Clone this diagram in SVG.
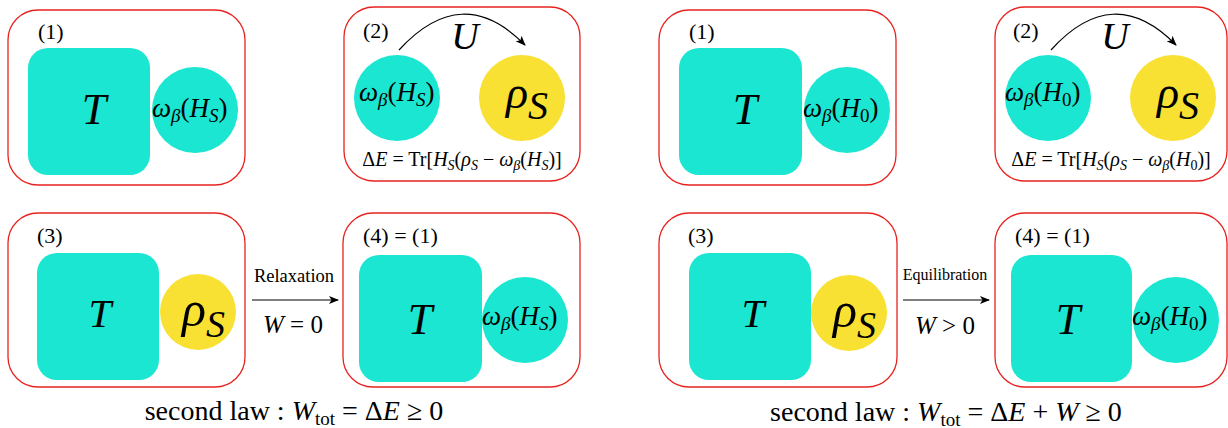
<svg xmlns="http://www.w3.org/2000/svg" width="1228" height="428" viewBox="0 0 1228 428">
<defs>
<style>
text{font-family:"Liberation Serif","Times New Roman",serif;fill:#000}
.box{fill:#fff;stroke:#e8231f;stroke-width:1.3}
.teal{fill:#1ae6d1}
.yel{fill:#f8e133}
.lab{font-size:22px}
.it{font-style:italic}
.bigT{font-size:44px;font-style:italic}
.om{font-size:27px}
.sub{font-size:19px}
.de{font-size:20px}
.ds{font-size:14px}
.conn{fill:none;stroke:#000;stroke-width:1.2}
</style>
<marker id="ah" viewBox="0 0 10 8" refX="9" refY="4" markerWidth="10" markerHeight="8" markerUnits="userSpaceOnUse" orient="auto">
<path d="M0,0 L10,4 L0,8 L2.5,4 z" fill="#000"/>
</marker>
</defs>
<rect width="1228" height="428" fill="#fff"/>

<!-- Left top panel 1 -->
<g id="L1">
<rect class="box" x="8" y="10" width="237" height="175" rx="30"/>
<rect class="teal" x="28" y="48" width="122" height="127" rx="20"/>
<circle class="teal" cx="195" cy="110" r="43"/>
<text class="lab" x="38" y="39">(1)</text>
<text class="bigT" x="94" y="124" text-anchor="middle">T</text>
<text class="om" x="152" y="117"><tspan class="it">ω</tspan><tspan class="it sub" dy="5">β</tspan><tspan dy="-5">(</tspan><tspan class="it">H</tspan><tspan class="it sub" dy="5">S</tspan><tspan dy="-5">)</tspan></text>
</g>

<!-- Left top panel 2 -->
<g id="L2">
<rect class="box" x="344" y="7" width="236" height="174" rx="30"/>
<circle class="teal" cx="397" cy="98" r="43"/>
<circle class="yel" cx="522" cy="98" r="43"/>
<text class="lab" x="363" y="38">(2)</text>
<text class="it" x="465" y="49" font-size="38" text-anchor="middle">U</text>
<text class="om" x="359" y="101"><tspan class="it">ω</tspan><tspan class="it sub" dy="5">β</tspan><tspan dy="-5">(</tspan><tspan class="it">H</tspan><tspan class="it sub" dy="5">S</tspan><tspan dy="-5">)</tspan></text>
<text class="it" x="506" y="108" font-size="46">ρ<tspan font-size="40" dy="11">S</tspan></text>
<text class="de" x="462" y="166" text-anchor="middle">Δ<tspan class="it">E</tspan> = Tr[<tspan class="it">H</tspan><tspan class="it ds" dy="4">S</tspan><tspan dy="-4">(</tspan><tspan class="it">ρ</tspan><tspan class="it ds" dy="4">S</tspan><tspan dy="-4"> − </tspan><tspan class="it">ω</tspan><tspan class="it ds" dy="4">β</tspan><tspan dy="-4">(</tspan><tspan class="it">H</tspan><tspan class="it ds" dy="4">S</tspan><tspan dy="-4">)]</tspan></text>
</g>

<!-- Right top panel 1 -->
<g id="R1">
<rect class="box" x="659" y="10" width="237" height="175" rx="30"/>
<rect class="teal" x="679" y="48" width="123" height="127" rx="20"/>
<circle class="teal" cx="847" cy="110" r="43"/>
<text class="lab" x="689" y="39">(1)</text>
<text class="bigT" x="745" y="124" text-anchor="middle">T</text>
<text class="om" x="803" y="117"><tspan class="it">ω</tspan><tspan class="it sub" dy="5">β</tspan><tspan dy="-5">(</tspan><tspan class="it">H</tspan><tspan class="sub" dy="5">0</tspan><tspan dy="-5">)</tspan></text>
</g>

<!-- Right top panel 2 -->
<g id="R2">
<rect class="box" x="995" y="7" width="232" height="174" rx="30"/>
<circle class="teal" cx="1048" cy="98" r="43"/>
<circle class="yel" cx="1173" cy="98" r="43"/>
<text class="lab" x="1013" y="38">(2)</text>
<text class="it" x="1115" y="49" font-size="38" text-anchor="middle">U</text>
<text class="om" x="1005" y="101"><tspan class="it">ω</tspan><tspan class="it sub" dy="5">β</tspan><tspan dy="-5">(</tspan><tspan class="it">H</tspan><tspan class="sub" dy="5">0</tspan><tspan dy="-5">)</tspan></text>
<text class="it" x="1157" y="108" font-size="46">ρ<tspan font-size="40" dy="11">S</tspan></text>
<text class="de" x="1111" y="166" text-anchor="middle">Δ<tspan class="it">E</tspan> = Tr[<tspan class="it">H</tspan><tspan class="it ds" dy="4">S</tspan><tspan dy="-4">(</tspan><tspan class="it">ρ</tspan><tspan class="it ds" dy="4">S</tspan><tspan dy="-4"> − </tspan><tspan class="it">ω</tspan><tspan class="it ds" dy="4">β</tspan><tspan dy="-4">(</tspan><tspan class="it">H</tspan><tspan class="ds" dy="4">0</tspan><tspan dy="-4">)]</tspan></text>
</g>

<!-- Left bottom panel 3 -->
<g id="L3">
<rect class="box" x="8" y="213" width="237" height="174" rx="30"/>
<rect class="teal" x="37" y="253" width="122" height="127" rx="20"/>
<circle class="yel" cx="198" cy="312" r="38"/>
<text class="lab" x="37" y="243">(3)</text>
<text class="it" x="100" y="327" font-size="41" text-anchor="middle">T</text>
<text class="it" x="182" y="326" font-size="50">ρ<tspan font-size="38" dy="11">S</tspan></text>
</g>

<!-- Left bottom panel 4 -->
<g id="L4">
<rect class="box" x="343" y="213" width="237" height="174" rx="30"/>
<rect class="teal" x="359" y="255" width="123" height="127" rx="20"/>
<circle class="teal" cx="525" cy="320" r="43"/>
<text class="lab" x="363" y="243">(4) = (1)</text>
<text class="bigT" x="420" y="334" text-anchor="middle">T</text>
<text class="om" x="482" y="325"><tspan class="it">ω</tspan><tspan class="it sub" dy="5">β</tspan><tspan dy="-5">(</tspan><tspan class="it">H</tspan><tspan class="it sub" dy="5">S</tspan><tspan dy="-5">)</tspan></text>
</g>

<!-- Right bottom panel 3 -->
<g id="R3">
<rect class="box" x="659" y="213" width="238" height="174" rx="30"/>
<rect class="teal" x="689" y="253" width="122" height="127" rx="20"/>
<circle class="yel" cx="849" cy="313" r="38"/>
<text class="lab" x="688" y="243">(3)</text>
<text class="it" x="753" y="327" font-size="41" text-anchor="middle">T</text>
<text class="it" x="833" y="327" font-size="50">ρ<tspan font-size="38" dy="11">S</tspan></text>
</g>

<!-- Right bottom panel 4 -->
<g id="R4">
<rect class="box" x="995" y="213" width="232" height="174" rx="30"/>
<rect class="teal" x="1011" y="255" width="121" height="127" rx="20"/>
<circle class="teal" cx="1176" cy="320" r="43"/>
<text class="lab" x="1015" y="243">(4) = (1)</text>
<text class="bigT" x="1068" y="334" text-anchor="middle">T</text>
<text class="om" x="1132" y="325"><tspan class="it">ω</tspan><tspan class="it sub" dy="5">β</tspan><tspan dy="-5">(</tspan><tspan class="it">H</tspan><tspan class="sub" dy="5">0</tspan><tspan dy="-5">)</tspan></text>
</g>

<!-- Connectors -->
<g id="connectors">
<path class="conn" d="M399,50 Q462,-19 525,45" marker-end="url(#ah)"/>
<path class="conn" d="M1051,50 Q1113,-19 1176,45" marker-end="url(#ah)"/>
<line class="conn" x1="252" y1="300" x2="338" y2="300" marker-end="url(#ah)"/>
<line class="conn" x1="903" y1="300" x2="989" y2="300" marker-end="url(#ah)"/>
<text x="294" y="282" font-size="18.5" text-anchor="middle">Relaxation</text>
<text x="293" y="333" font-size="25" text-anchor="middle"><tspan class="it">W</tspan> = 0</text>
<text x="945" y="280" font-size="16" text-anchor="middle">Equilibration</text>
<text x="945" y="334" font-size="25" text-anchor="middle"><tspan class="it">W</tspan> &gt; 0</text>
</g>

<!-- Bottom captions -->
<g id="captions">
<text x="294" y="420" font-size="28" text-anchor="middle">second law : <tspan class="it">W</tspan><tspan font-size="19" dy="5">tot</tspan><tspan dy="-5"> = Δ</tspan><tspan class="it">E</tspan> ≥ 0</text>
<text x="946" y="421" font-size="28" text-anchor="middle">second law : <tspan class="it">W</tspan><tspan font-size="19" dy="5">tot</tspan><tspan dy="-5"> = Δ</tspan><tspan class="it">E</tspan> + <tspan class="it">W</tspan> ≥ 0</text>
</g>
</svg>
